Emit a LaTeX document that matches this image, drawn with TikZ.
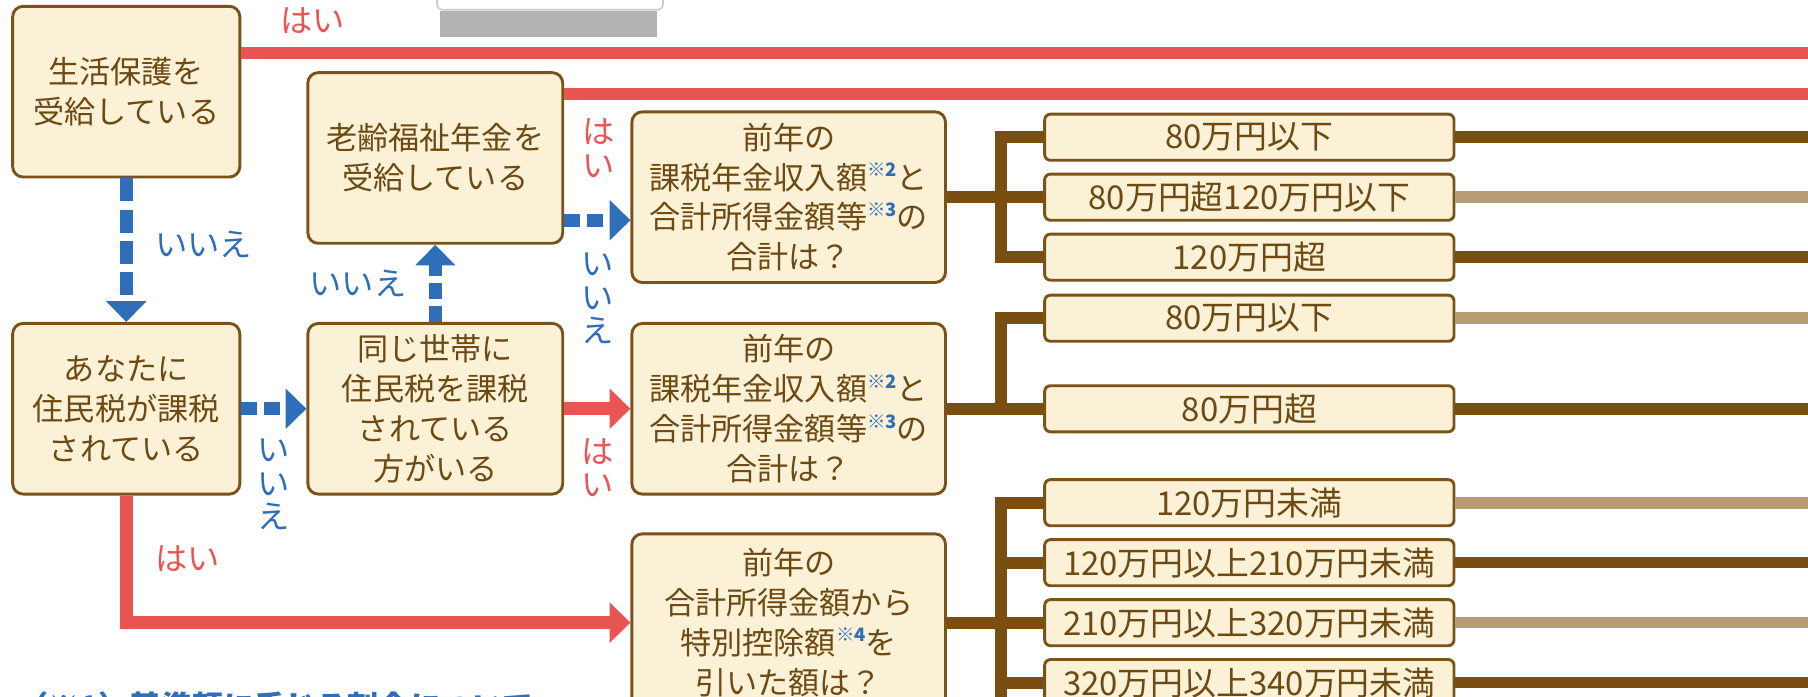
\documentclass[tikz,border=0pt]{standalone}
\usepackage{fontspec}
\setmainfont{Noto Sans CJK JP}
\usepackage{tikz}
\usetikzlibrary{arrows.meta, positioning}
\definecolor{waku}{HTML}{7B5318}
\definecolor{nuri}{HTML}{FAF1D7}
\definecolor{moji}{HTML}{6E4A12}
\definecolor{koge}{HTML}{7A4E10}
\definecolor{usui}{HTML}{B89C74}
\definecolor{hai}{HTML}{E85552}
\definecolor{iie}{HTML}{2F6EB8}
\newcommand{\kome}[1]{\raisebox{0.4em}{\fontsize{16}{16}\selectfont\bfseries\color{iie}※#1}}
\tikzstyle{question} = [rectangle, rounded corners=9pt, minimum width=272pt, minimum height=148pt, inner sep=0pt, align=center, draw=waku, line width=2.5pt, fill=nuri, text=moji, font=\fontsize{27}{34.5}\selectfont]
\tikzstyle{firstq} = [question, minimum width=197pt]
\tikzstyle{midq} = [question, minimum width=221pt]
\tikzstyle{result} = [rectangle, rounded corners=5pt, minimum width=355pt, minimum height=40pt, inner sep=0pt, draw=waku, line width=2.5pt, fill=nuri, text=moji, font=\fontsize{28.5}{30}\selectfont]
\tikzstyle{yesline} = [line width=11pt, draw=hai]
\tikzstyle{yesarrow} = [yesline, -{Triangle[width=34pt,length=18pt]}]
\tikzstyle{noarrow} = [line width=11pt, draw=iie, dash pattern=on 14pt off 6pt, -{Triangle[width=34pt,length=18pt]}]
\tikzstyle{branch} = [line width=10.5pt, draw=koge]
\tikzstyle{outdark} = [line width=10pt, draw=koge]
\tikzstyle{outpale} = [line width=10pt, draw=usui]
\tikzstyle{haitext} = [inner sep=0pt, align=center, text=hai, font=\fontsize{28}{29}\selectfont]
\tikzstyle{iietext} = [haitext, text=iie]

\begin{document}
\begin{tikzpicture}[x=1pt, y=-1pt, node distance=268pt]
    \useasboundingbox (0,0) rectangle (1568,604);
    \clip (0,0) rectangle (1568,604);
    %上の飾り
    \draw [draw=gray!40, fill=white, line width=1.5pt, rounded corners=5pt] (379,-8) rectangle (575,8.5);
    \fill [gray!60] (382,9.5) rectangle (570,32);

    %判定の箱
    \node (d_hogo) [firstq] at (109.5,79.5) {生活保護を\\受給している};
    \node (d_juumin) [firstq, below of=d_hogo, node distance=275pt] {あなたに\\住民税が課税\\されている};
    \node (d_setai) [midq, right of=d_juumin] {同じ世帯に\\住民税を課税\\されている\\方がいる};
    \node (d_roureki) [midq, above of=d_setai, node distance=217.5pt] {老齢福祉年金を\\受給している};
    \node (q_kazei2) [question, right of=d_setai, node distance=306.5pt] {前年の\\課税年金収入額\kome{2}と\\合計所得金額等\kome{3}の\\合計は？};
    \node (q_kazei1) [question, above of=q_kazei2, node distance=183.5pt] {前年の\\課税年金収入額\kome{2}と\\合計所得金額等\kome{3}の\\合計は？};
    \node (q_shotoku) [question, below of=q_kazei2, node distance=185.5pt, minimum height=154pt] {前年の\\合計所得金額から\\特別控除額\kome{4}を\\引いた額は？};

    %金額の箱
    \node (r1_80ika) [result, right of=q_kazei1, node distance=399.5pt, yshift=52pt] {80万円以下};
    \node (r1_120ika) [result, below of=r1_80ika, node distance=52pt] {80万円超120万円以下};
    \node (r1_120cho) [result, below of=r1_120ika, node distance=52pt] {120万円超};
    \node (r2_80ika) [result, right of=q_kazei2, node distance=399.5pt, yshift=78.5pt] {80万円以下};
    \node (r2_80cho) [result, right of=q_kazei2, node distance=399.5pt] {80万円超};
    \node (r3_120miman) [result, right of=q_shotoku, node distance=399.5pt, yshift=104pt] {120万円未満};
    \node (r3_210miman) [result, below of=r3_120miman, node distance=52pt] {120万円以上210万円未満};
    \node (r3_320miman) [result, below of=r3_210miman, node distance=52pt] {210万円以上320万円未満};
    \node (r3_340miman) [result, below of=r3_320miman, node distance=52pt] {320万円以上340万円未満};

    \coordinate (edge) at (1580,0);
    \coordinate (hogo_out) at ([yshift=33.5pt]d_hogo.east);
    \coordinate (roureki_out) at ([yshift=55.5pt]d_roureki.east);
    \coordinate (bus_end) at ([xshift=47pt, yshift=-90pt]q_shotoku.east);

    %はい・いいえの矢印
    \draw [yesline] (hogo_out) -- node[haitext, pos=0.0452, above=11pt]{はい} (hogo_out -| edge);
    \draw [yesline] (roureki_out) -- node[haitext, pos=0.0275, anchor=north, yshift=-16pt]{は\\い} (roureki_out -| edge);
    \draw [noarrow, dash pattern=on 20pt off 7pt] (d_hogo) -- node[iietext, anchor=west, xshift=19.5pt, yshift=5pt]{いいえ} (d_juumin);
    \draw [noarrow] (d_juumin) -- node[iietext, anchor=north, yshift=-21pt]{い\\い\\え} (d_setai);
    \draw [noarrow] (d_setai) -- node[iietext, anchor=east, xshift=-19.5pt]{いいえ} (d_roureki);
    \draw [noarrow] ([yshift=-54pt]d_roureki.east) -- node[iietext, anchor=north, yshift=-23pt]{い\\い\\え} ([yshift=-20pt]q_kazei1.west);
    \draw [yesarrow] (d_setai) -- node[haitext, anchor=north, yshift=-20pt]{は\\い} (q_kazei2);
    \draw [yesarrow] (d_juumin) |- node[haitext, pos=0.25, anchor=west, xshift=19.5pt]{はい} (q_shotoku);

    %分かれ線
    \draw [branch] (q_kazei1.east) -- ++(47,0) |- (r1_80ika.west);
    \draw [branch] (q_kazei1.east) -- (r1_120ika.west);
    \draw [branch] (q_kazei1.east) -- ++(47,0) |- (r1_120cho.west);
    \draw [branch] (q_kazei2.east) -- ++(47,0) |- (r2_80ika.west);
    \draw [branch] (q_kazei2.east) -- (r2_80cho.west);
    \draw [branch] (q_shotoku.east) -- ++(47,0) |- (r3_120miman.west);
    \draw [branch] (q_shotoku.east) -- ++(47,0) |- (r3_210miman.west);
    \draw [branch] (q_shotoku.east) -- (r3_320miman.west);
    \draw [branch] (q_shotoku.east) -- ++(47,0) |- (r3_340miman.west);
    \draw [branch] (q_shotoku.east) -- ++(47,0) -- (bus_end);

    %右へ伸びる線
    \draw [outdark] (r1_80ika.east) -- (r1_80ika.east -| edge);
    \draw [outpale] (r1_120ika.east) -- (r1_120ika.east -| edge);
    \draw [outdark] (r1_120cho.east) -- (r1_120cho.east -| edge);
    \draw [outpale] (r2_80ika.east) -- (r2_80ika.east -| edge);
    \draw [outdark] (r2_80cho.east) -- (r2_80cho.east -| edge);
    \draw [outpale] (r3_120miman.east) -- (r3_120miman.east -| edge);
    \draw [outdark] (r3_210miman.east) -- (r3_210miman.east -| edge);
    \draw [outpale] (r3_320miman.east) -- (r3_320miman.east -| edge);
    \draw [outdark] (r3_340miman.east) -- (r3_340miman.east -| edge);

    %注記
    \node (chuki1) [anchor=base west, inner sep=0pt, text=iie, font=\fontsize{27}{30}\selectfont\bfseries] at (15,623) {（※1）基準額に乗じる割合について};
\end{tikzpicture}
\end{document}
